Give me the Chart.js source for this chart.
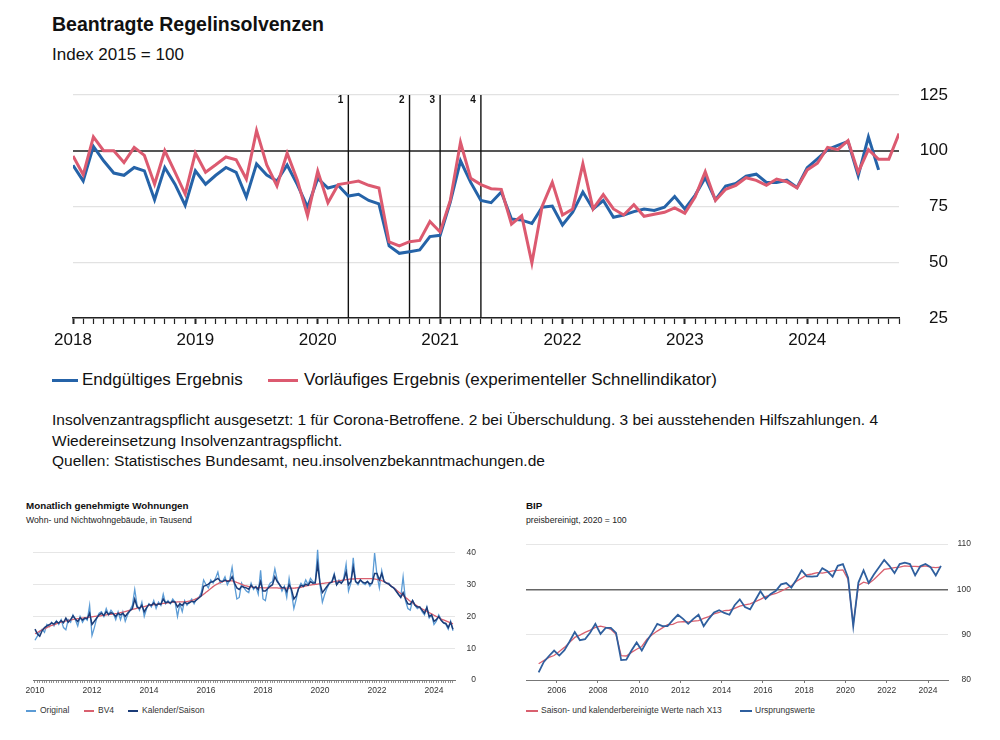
<!DOCTYPE html>
<html><head><meta charset="utf-8">
<script src="https://cdn.jsdelivr.net/npm/chart.js@4"></script>
<style>
body{margin:0;background:#fff;width:1000px;height:740px;position:relative;overflow:hidden;font-family:"Liberation Sans",Arial,sans-serif;color:#111}
.t{position:absolute;white-space:nowrap}
.sw{position:absolute}
canvas{position:absolute}
</style></head><body>
<div class="t" style="left:52px;top:12px;font-size:19.5px;line-height:24px;font-weight:bold">Beantragte Regelinsolvenzen</div>
<div class="t" style="left:52px;top:45px;font-size:17px;line-height:20px">Index 2015 = 100</div>
<canvas id="mainChart" width="1000" height="360" style="left:0;top:0"></canvas>
<div class="sw" style="left:52px;top:379px;width:26px;height:3px;background:#2563a8"></div>
<div class="t" style="left:82px;top:370px;font-size:17px;line-height:20px">Endgültiges Ergebnis</div>
<div class="sw" style="left:268px;top:379px;width:30px;height:3px;background:#dc5a70"></div>
<div class="t" style="left:304px;top:370px;font-size:17px;line-height:20px">Vorläufiges Ergebnis (experimenteller Schnellindikator)</div>
<div class="t" style="left:52px;top:410px;font-size:15.5px;line-height:20.5px">Insolvenzantragspflicht ausgesetzt: 1 für Corona-Betroffene. 2 bei Überschuldung. 3 bei ausstehenden Hilfszahlungen. 4<br>Wiedereinsetzung Insolvenzantragspflicht.<br>Quellen: Statistisches Bundesamt, neu.insolvenzbekanntmachungen.de</div>

<div class="t" style="left:26px;top:500px;font-size:9.8px;line-height:12px;font-weight:bold">Monatlich genehmigte Wohnungen</div>
<div class="t" style="left:26px;top:515px;font-size:8.7px;line-height:11px;color:#222">Wohn- und Nichtwohngebäude, in Tausend</div>
<canvas id="houseChart" width="500" height="170" style="left:0;top:530px"></canvas>
<div class="sw" style="left:26px;top:710px;width:10px;height:1.5px;background:#5b9bd5"></div>
<div class="t" style="left:40px;top:705px;font-size:8.5px;line-height:11px;color:#333">Original</div>
<div class="sw" style="left:84px;top:710px;width:10px;height:1.5px;background:#d9606f"></div>
<div class="t" style="left:98px;top:705px;font-size:8.5px;line-height:11px;color:#333">BV4</div>
<div class="sw" style="left:128px;top:710px;width:10px;height:1.5px;background:#1b3c78"></div>
<div class="t" style="left:142px;top:705px;font-size:8.5px;line-height:11px;color:#333">Kalender/Saison</div>

<div class="t" style="left:526px;top:500px;font-size:9.8px;line-height:12px;font-weight:bold">BIP</div>
<div class="t" style="left:526px;top:515px;font-size:8.7px;line-height:11px;color:#222">preisbereinigt, 2020 = 100</div>
<canvas id="bipChart" width="500" height="170" style="left:500px;top:530px"></canvas>
<div class="sw" style="left:526px;top:710px;width:12px;height:1.5px;background:#d9606f"></div>
<div class="t" style="left:541px;top:705px;font-size:8.5px;line-height:11px;color:#333">Saison- und kalenderbereinigte Werte nach X13</div>
<div class="sw" style="left:740px;top:710px;width:12px;height:1.5px;background:#2f5f9e"></div>
<div class="t" style="left:755px;top:705px;font-size:8.5px;line-height:11px;color:#333">Ursprungswerte</div>

<script>
// ---------- Beantragte Regelinsolvenzen (monthly from Jan 2018) ----------
const insStartYear = 2018;
const insMonthCount = 82;
const insFinal = [
  93.5, 86.5, 102.0, 95.5, 90.0, 89.0, 92.5, 91.0, 78.0, 92.5, 85.0, 75.5,
  91.0, 85.0, 89.0, 92.5, 90.3, 79.2, 94.1, 89.1, 86.4, 93.6, 84.8, 74.7,
  87.6, 83.3, 84.5, 79.7, 80.5, 77.7, 76.2, 57.3, 54.0, 54.7, 55.5, 61.5,
  62.1, 77.0, 95.5, 85.8, 77.7, 76.7, 81.5, 69.4, 68.9, 67.4, 74.7, 75.2,
  66.7, 72.4, 81.5, 73.9, 77.7, 70.2, 71.2, 72.7, 73.9, 73.2, 74.7, 79.5,
  73.9, 80.0, 87.9, 78.0, 84.2, 85.3, 88.6, 89.5, 85.8, 85.8, 86.8, 83.5,
  92.4, 96.4, 100.5, 102.4, 104.2, 88.8, 106.2, 91.4
];
const insPrelim = [
  97.7, 89.2, 106.2, 100.0, 100.0, 94.7, 101.5, 97.9, 85.0, 100.0, 90.4, 80.6,
  99.0, 90.4, 93.7, 97.2, 95.9, 87.3, 109.0, 93.6, 84.2, 98.9, 86.8, 70.9,
  90.9, 76.7, 84.8, 85.6, 86.4, 84.5, 83.3, 59.1, 57.3, 59.2, 59.8, 68.3,
  63.6, 77.7, 103.8, 87.6, 84.8, 83.0, 82.7, 67.1, 70.9, 49.7, 75.0, 85.8,
  71.2, 73.9, 94.1, 73.9, 80.3, 73.9, 71.2, 75.8, 70.6, 71.5, 72.4, 74.4,
  72.0, 79.2, 90.6, 77.7, 82.7, 84.5, 87.9, 86.7, 84.5, 87.3, 86.1, 83.3,
  91.4, 94.4, 101.5, 100.5, 104.5, 90.3, 100.5, 96.2, 96.2, 107.7
];
const insYTicks = [25, 50, 75, 100, 125];
const eventMonths = [27, 33, 36, 40];
const eventLabels = ['1', '2', '3', '4'];

// ---------- Monatlich genehmigte Wohnungen (monthly from Jan 2010, thousand) ----------
const houseStartYear = 2010;
const houseOriginal = [
  12.5, 13.8, 15.2, 16.0, 15.0, 17.5, 16.8, 18.2, 17.0, 18.6, 17.5, 19.0,
  16.5, 15.8, 19.0, 18.2, 20.5, 19.0, 17.0, 20.0, 18.2, 19.5, 18.8, 23.5,
  14.0, 16.5, 19.5, 21.0, 21.5, 20.0, 22.5, 20.5, 22.0, 21.0, 19.0, 21.5,
  19.0, 21.5, 18.5, 20.5, 22.0, 23.5, 28.5, 23.5, 22.0, 24.5, 20.0, 22.5,
  24.0, 23.0, 25.0, 22.5, 24.5, 23.5, 27.0, 24.0, 25.0, 24.0, 25.5, 24.5,
  20.0, 24.0, 21.5, 25.0, 23.5, 24.5, 25.5, 24.0, 25.5, 26.0, 27.5, 31.5,
  30.0, 29.0, 31.5, 30.5, 32.0, 34.0, 30.5, 31.0, 32.5, 30.0, 31.5, 35.5,
  30.0, 25.5, 26.0, 30.5, 29.0, 28.0, 27.5, 30.5, 28.5, 29.5, 27.0, 34.5,
  25.5, 25.0, 29.0, 30.5, 31.0, 35.0, 31.5, 30.0, 28.0, 29.5, 26.0, 32.0,
  27.5, 22.5, 25.5, 29.0, 30.5, 29.5, 31.5, 30.0, 32.0, 31.0, 30.5, 41.0,
  30.0, 24.5, 27.0, 29.0, 30.5, 31.0, 33.5, 30.0, 31.5, 30.5, 32.0, 36.5,
  28.0, 30.5, 38.5, 31.0, 30.0, 31.5, 30.5, 30.0, 31.0, 29.5, 30.5, 40.0,
  33.0, 29.0, 34.5, 31.0, 30.5, 30.5, 29.5, 29.0, 28.5, 27.0, 26.0, 32.5,
  25.0, 22.5, 22.0, 25.0, 23.5, 22.5, 23.0, 21.5, 20.5, 23.0, 19.5, 20.5,
  17.5, 18.5, 20.5, 19.0, 18.0, 17.5, 16.0, 18.5, 15.5
];
const houseBV4 = [
  14.6, 14.9, 15.4, 15.8, 16.2, 16.5, 16.9, 17.2, 17.4, 17.7, 18.0, 18.2,
  18.4, 18.6, 18.7, 18.9, 19.1, 19.2, 19.3, 19.4, 19.5, 19.6, 19.7, 19.8,
  19.9, 20.0, 20.1, 20.1, 20.3, 20.4, 20.5, 20.6, 20.7, 20.8, 20.9, 21.0,
  21.2, 21.4, 21.5, 21.8, 22.0, 22.2, 22.4, 22.6, 22.8, 23.0, 23.1, 23.3,
  23.5, 23.6, 23.7, 23.8, 23.9, 24.0, 24.1, 24.2, 24.3, 24.4, 24.5, 24.5,
  24.6, 24.6, 24.6, 24.6, 24.7, 24.8, 25.0, 25.3, 25.6, 26.0, 26.5, 27.0,
  27.6, 28.2, 28.8, 29.4, 29.9, 30.3, 30.7, 31.0, 31.2, 31.3, 31.3, 31.2,
  31.0, 30.7, 30.4, 30.1, 29.8, 29.6, 29.4, 29.3, 29.2, 29.1, 29.1, 29.1,
  29.0, 29.0, 29.0, 29.0, 29.0, 29.0, 29.0, 28.9, 28.9, 28.9, 28.9, 28.9,
  28.9, 28.9, 29.0, 29.1, 29.2, 29.4, 29.6, 29.8, 29.9, 30.0, 30.1, 30.2,
  30.3, 30.4, 30.5, 30.6, 30.7, 30.8, 31.0, 31.1, 31.2, 31.4, 31.5, 31.6,
  31.7, 31.8, 31.8, 31.9, 31.9, 31.9, 31.9, 31.9, 31.9, 31.9, 31.9, 31.8,
  31.7, 31.5, 31.3, 31.0, 30.6, 30.1, 29.6, 29.0, 28.4, 27.8, 27.2, 26.6,
  26.0, 25.4, 24.8, 24.3, 23.8, 23.3, 22.8, 22.4, 22.0, 21.6, 21.2, 20.8,
  20.4, 20.0, 19.6, 19.2, 18.9, 18.6, 18.3, 18.0, 17.7
];
const houseKS = [
  16.0, 14.5, 13.8, 15.5, 16.5, 17.0, 17.4, 18.0, 17.6, 18.4, 17.9, 18.7,
  18.0, 19.5, 18.2, 19.0, 20.2, 19.2, 18.4, 19.6, 18.9, 19.5, 19.3, 21.0,
  17.5, 18.5, 19.5, 20.5, 21.0, 20.3, 21.5, 20.6, 21.2, 20.8, 20.0, 21.0,
  20.5, 21.0, 20.0, 21.0, 21.8, 22.5, 25.5, 23.0, 22.5, 23.5, 21.5, 22.8,
  23.8, 23.5, 24.2, 23.5, 24.0, 23.8, 25.5, 24.3, 24.6, 24.2, 24.8, 24.5,
  23.0, 24.0, 23.5, 24.5, 24.0, 24.3, 24.8, 24.6, 25.2, 25.8, 26.5, 29.5,
  29.8, 30.2, 30.8, 31.0, 31.5, 32.0, 31.2, 31.0, 31.5, 31.0, 31.2, 32.5,
  30.5, 29.0, 28.5, 29.5, 29.2, 29.0, 28.6, 29.8, 29.0, 29.3, 28.5, 31.0,
  28.0, 28.0, 28.8, 29.5, 30.0, 32.5, 31.0, 30.0, 29.0, 29.2, 27.8, 30.0,
  28.5, 25.5, 26.5, 28.8, 29.8, 29.5, 30.2, 29.8, 31.0, 30.5, 30.6, 36.5,
  30.5, 27.5, 28.5, 29.5, 30.5, 30.8, 33.0, 30.0, 31.0, 30.5, 31.5, 34.0,
  30.0, 31.0, 35.5, 31.0, 30.5, 31.5, 30.8, 30.5, 31.0, 30.2, 30.6, 33.5,
  33.5, 31.5, 33.5, 31.0, 30.5, 30.2, 29.5, 29.0, 28.0, 27.0, 26.0, 27.5,
  25.5, 24.0, 23.8, 25.0, 23.5, 23.0, 23.0, 22.0, 21.0, 22.8, 20.0, 20.5,
  18.5, 19.0, 20.0, 18.8, 18.0, 17.8, 16.5, 18.2, 16.0
];
const houseYTicks = [0, 10, 20, 30, 40];
const houseLabelYears = [2010, 2012, 2014, 2016, 2018, 2020, 2022, 2024];

// ---------- BIP (quarterly from 2005 Q1, 2020 = 100) ----------
const bipStartYear = 2005;
const bipAdjusted = [
  83.6, 84.3, 85.0, 85.4,  86.3, 87.2, 88.3, 89.4,  89.9, 90.5, 91.0, 91.6,
  91.9, 91.6, 91.2, 90.1,  85.4, 85.3, 86.1, 86.8,  87.4, 89.0, 90.0, 90.8,
  91.5, 92.2, 92.3, 92.8,  92.9, 92.8, 93.0, 93.1,  93.6, 94.0, 94.6, 94.9,
  95.3, 95.4, 95.8, 96.3,  96.6, 96.8, 97.3, 97.8,  98.4, 98.8, 99.1, 99.6,
  100.2, 100.8, 101.8, 102.5,  103.2, 103.4, 103.7, 103.6,  103.8, 104.1, 104.2, 104.3,
  102.2, 92.3, 100.9, 101.6,  101.3, 102.2, 103.3, 104.4,  104.6, 104.8, 104.9, 105.2,
  105.1, 105.1, 105.0, 105.2,  104.9, 104.8, 104.9
];
const bipOriginal = [
  81.7, 84.0, 85.3, 86.5,  85.4, 86.6, 88.5, 90.6,  88.8, 89.0, 90.5, 92.4,
  90.2, 91.5, 91.5, 90.4,  84.4, 84.5, 86.5, 88.3,  86.5, 88.6, 90.4, 92.4,
  91.9, 91.9, 93.2, 94.4,  93.5, 92.4, 93.5, 94.4,  91.9, 93.5, 94.9, 95.4,
  94.8, 94.4, 96.5, 97.8,  96.1, 95.6, 97.6, 99.6,  97.9, 99.0, 99.7, 101.1,
  101.4, 100.4, 102.2, 104.2,  102.9, 102.8, 102.9, 104.7,  104.0, 102.8, 105.2, 105.6,
  102.6, 91.9, 101.5, 104.2,  101.4, 103.3, 104.9, 106.5,  105.2, 103.6, 105.6, 105.9,
  105.6, 103.1, 105.1, 105.6,  104.9, 103.1, 105.2
];
const bipYTicks = [80, 90, 100, 110];
const bipLabelYears = [2006, 2008, 2010, 2012, 2014, 2016, 2018, 2020, 2022, 2024];

// ---------- common ----------
Chart.defaults.font.family = "'Liberation Sans', Arial, sans-serif";
Chart.defaults.color = '#111';
const RED = '#dc5a70', BLUE = '#2563a8';

const monthPts = (arr) => arr.map((v, i) => ({x: i, y: v}));
const quarterPts = (arr) => arr.map((v, i) => ({x: bipStartYear + i / 4 + 0.125, y: v}));

const eventLabelPlugin = {
  id: 'eventLabels',
  afterDatasetsDraw(chart) {
    const {ctx, chartArea} = chart;
    const x = chart.scales.x;
    ctx.save();
    ctx.font = "bold 10px 'Liberation Sans', Arial, sans-serif";
    ctx.fillStyle = '#111';
    ctx.textAlign = 'right';
    ctx.textBaseline = 'middle';
    eventMonths.forEach((m, i) => ctx.fillText(eventLabels[i], x.getPixelForValue(m) - 5, chartArea.top + 5));
    ctx.restore();
  }
};

const insMonthTicks = Array.from({length: insMonthCount}, (_, i) => i);
const eventSets = eventMonths.map(m => ({
  data: [{x: m, y: 25}, {x: m, y: 125}],
  borderColor: '#111', borderWidth: 1.4, pointRadius: 0, tension: 0
}));

new Chart(document.getElementById('mainChart'), {
  type: 'line',
  data: {
    datasets: [
      {data: monthPts(insPrelim), borderColor: RED, borderWidth: 3, pointRadius: 0, tension: 0},
      {data: monthPts(insFinal), borderColor: BLUE, borderWidth: 3, pointRadius: 0, tension: 0},
      ...eventSets
    ]
  },
  options: {
    responsive: false, animation: false,
    layout: {padding: {left: 73, top: 95, right: 52, bottom: 10}},
    plugins: {legend: {display: false}, tooltip: {enabled: false}},
    scales: {
      x: {
        type: 'linear', min: 0, max: insMonthCount - 1,
        afterBuildTicks: s => { s.ticks = insMonthTicks.map(v => ({value: v})); },
        afterFit: s => { s.height = 32; },
        ticks: {autoSkip: false, maxRotation: 0, padding: 6, font: {size: 17}, color: '#111',
          callback: v => (v % 12 === 0 ? String(insStartYear + v / 12) : '')},
        grid: {drawOnChartArea: false, drawTicks: true, tickLength: 6, tickColor: '#222',
          tickWidth: c => (c.tick && c.tick.value % 12 === 0 ? 2 : 1.2)},
        border: {display: true, color: '#222', width: 1.5}
      },
      y: {
        position: 'right', min: 25, max: 125,
        afterBuildTicks: s => { s.ticks = insYTicks.map(v => ({value: v})); },
        afterFit: s => { s.width = 49; },
        ticks: {crossAlign: 'far', padding: 21, font: {size: 17}, color: '#111'},
        grid: {drawTicks: false,
          color: c => (c.tick && c.tick.value === 100 ? '#555' : '#e2e2e2'),
          lineWidth: c => (c.tick && c.tick.value === 100 ? 2 : 1.2)},
        border: {display: false}
      }
    }
  },
  plugins: [eventLabelPlugin]
});

const houseMonthTicks = Array.from({length: houseOriginal.length}, (_, i) => i);
new Chart(document.getElementById('houseChart'), {
  type: 'line',
  data: {
    datasets: [
      {data: monthPts(houseKS), borderColor: '#1b3c78', borderWidth: 1.5, pointRadius: 0, tension: 0},
      {data: monthPts(houseBV4), borderColor: '#d9606f', borderWidth: 1.3, pointRadius: 0, tension: 0.3},
      {data: monthPts(houseOriginal), borderColor: '#5b9bd5', borderWidth: 1.3, pointRadius: 0, tension: 0}
    ]
  },
  options: {
    responsive: false, animation: false,
    layout: {padding: {left: 33, top: 13.5, right: 24, bottom: 0}},
    plugins: {legend: {display: false}, tooltip: {enabled: false}},
    scales: {
      x: {
        type: 'linear', min: -0.84, max: 176.85,
        afterBuildTicks: s => { s.ticks = houseMonthTicks.map(v => ({value: v})); },
        afterFit: s => { s.height = 20; },
        ticks: {autoSkip: false, maxRotation: 0, padding: 3, font: {size: 8.5}, color: '#333',
          callback: v => { const y = houseStartYear + v / 12; return (v % 12 === 0 && houseLabelYears.includes(y)) ? String(y) : ''; }},
        grid: {drawOnChartArea: false, tickLength: 3, tickColor: '#777', tickWidth: 0.8},
        border: {display: true, color: '#777', width: 1}
      },
      y: {
        position: 'right', min: 0, max: 42,
        afterBuildTicks: s => { s.ticks = houseYTicks.map(v => ({value: v})); },
        afterFit: s => { s.width = 21; },
        ticks: {crossAlign: 'far', padding: 11.5, font: {size: 8.5}, color: '#333'},
        grid: {drawTicks: false, color: '#e6e6e6', lineWidth: 1},
        border: {display: false}
      }
    }
  }
});

new Chart(document.getElementById('bipChart'), {
  type: 'line',
  data: {
    datasets: [
      {data: quarterPts(bipOriginal), borderColor: '#2f5f9e', borderWidth: 1.8, pointRadius: 0, tension: 0},
      {data: quarterPts(bipAdjusted), borderColor: '#d9606f', borderWidth: 1.3, pointRadius: 0, tension: 0}
    ]
  },
  options: {
    responsive: false, animation: false,
    layout: {padding: {left: 26, top: 10, right: 29, bottom: 0}},
    plugins: {legend: {display: false}, tooltip: {enabled: false}},
    scales: {
      x: {
        type: 'linear', min: 2004.512, max: 2024.968,
        afterBuildTicks: s => { s.ticks = bipLabelYears.map(v => ({value: v})); },
        afterFit: s => { s.height = 20; },
        ticks: {autoSkip: false, maxRotation: 0, padding: 3, font: {size: 8.5}, color: '#333',
          callback: v => String(v)},
        grid: {drawOnChartArea: false, tickLength: 3, tickColor: '#777'},
        border: {display: true, color: '#777', width: 1}
      },
      y: {
        position: 'right', min: 80, max: 110,
        afterBuildTicks: s => { s.ticks = bipYTicks.map(v => ({value: v})); },
        afterFit: s => { s.width = 23; },
        ticks: {crossAlign: 'far', padding: 9, font: {size: 8.5}, color: '#333'},
        grid: {drawTicks: false,
          color: c => (c.tick && c.tick.value === 100 ? '#666' : '#e6e6e6'),
          lineWidth: c => (c.tick && c.tick.value === 100 ? 1.5 : 1)},
        border: {display: false}
      }
    }
  }
});
</script>
</body></html>
